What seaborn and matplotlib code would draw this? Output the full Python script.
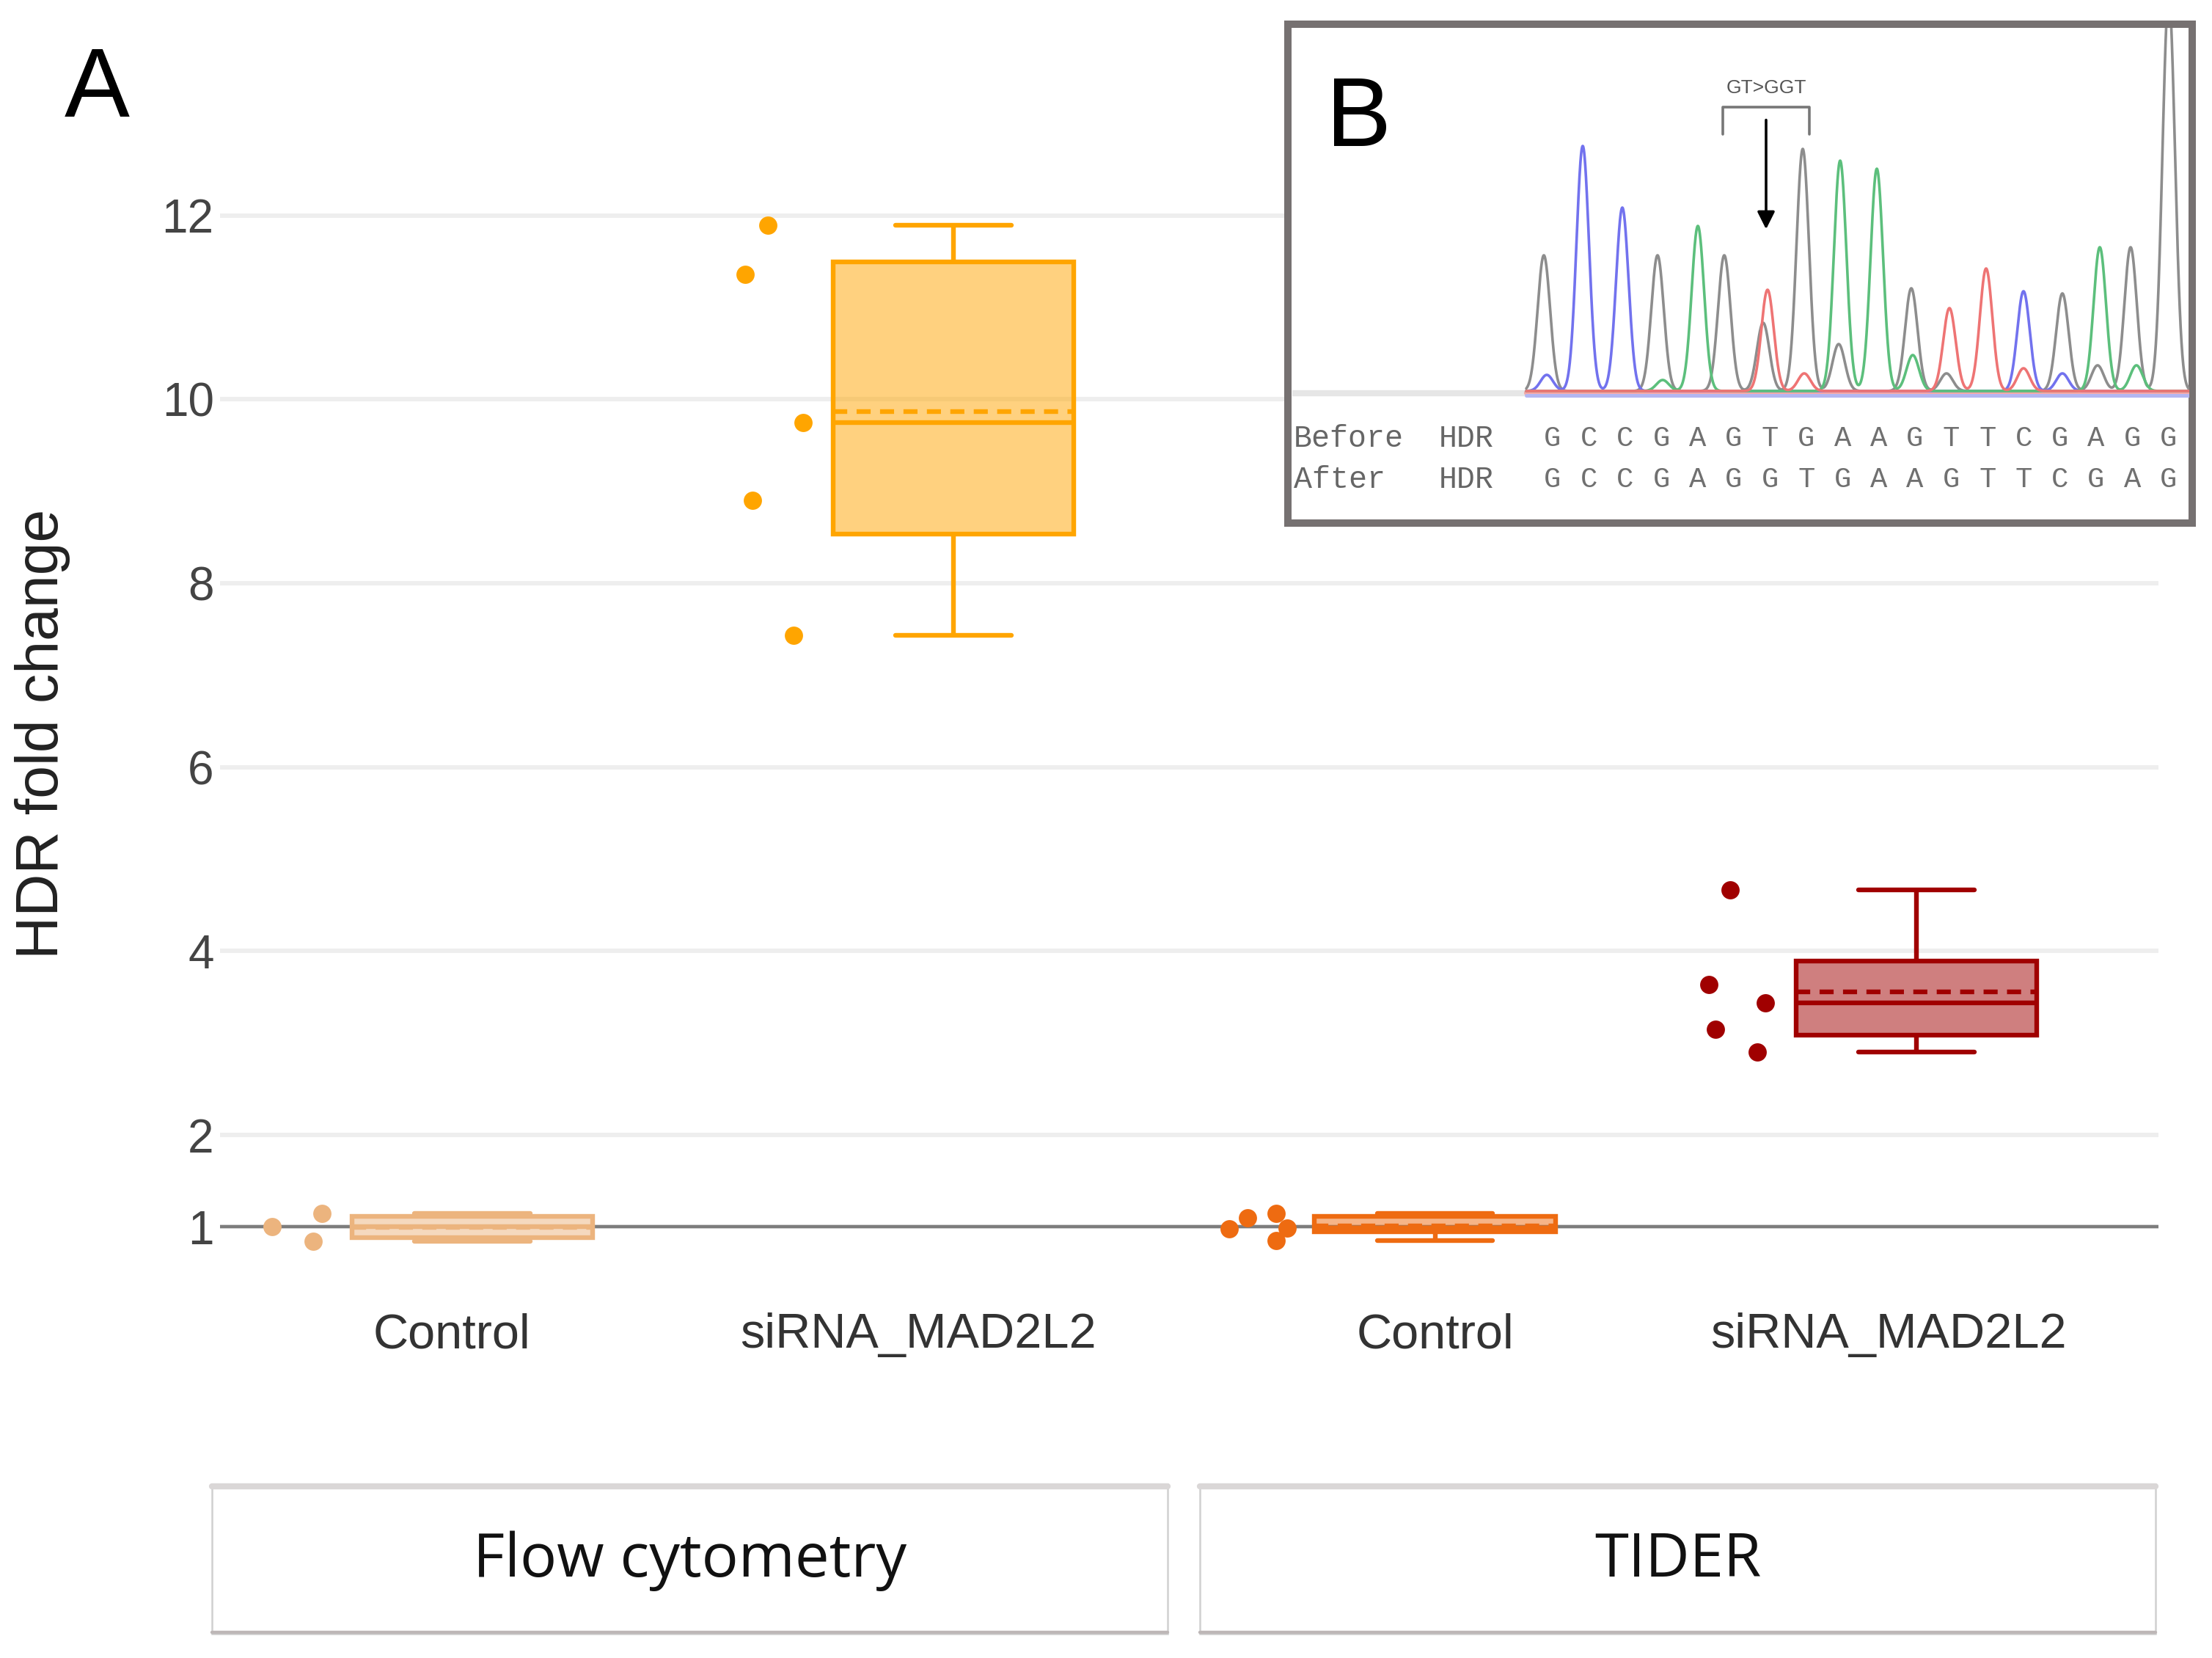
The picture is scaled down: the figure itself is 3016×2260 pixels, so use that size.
import numpy as np
import pandas as pd
import matplotlib
matplotlib.use("Agg")
import matplotlib as mpl
import matplotlib.cbook
import matplotlib.pyplot as plt
from matplotlib.patches import Rectangle
from matplotlib.colors import to_rgba
import seaborn as sns

# ------------------------------------------------------------------ data
methods = ["Flow cytometry", "Flow cytometry", "TIDER", "TIDER"]
categories = ["Control", "siRNA_MAD2L2", "Control", "siRNA_MAD2L2"]

fc_control = [1.00, 1.151, 0.846]
fc_sirna = [11.89, 11.36, 9.75, 8.90, 7.43]
tider_control = [0.98, 1.10, 1.15, 0.99, 0.85]
tider_sirna = [4.664, 3.635, 3.437, 3.149, 2.899]

fc_control_jit = [-0.416, -0.312, -0.331]
fc_sirna_jit = [-0.386, -0.433, -0.313, -0.418, -0.332]
tider_control_jit = [-0.427, -0.389, -0.330, -0.307, -0.330]
tider_sirna_jit = [-0.387, -0.431, -0.313, -0.417, -0.330]

group_colors = ["#ECB47E", "#FFA500", "#EE6B11", "#A00000"]
ytick_values = [1, 2, 4, 6, 8, 10, 12]
strip_labels = ["Flow cytometry", "TIDER"]

# chromatogram (panel B): main peaks and minor peaks, positions in scan units
peak_base = list("GCCGAGTGAAGTTCGAGG")
peak_pos = [24, 77, 131, 179, 234, 270, 329, 377, 428, 478, 525, 577, 627, 678, 731, 782, 824, 876]
peak_height = [185, 334, 250, 185, 225, 185, 138, 330, 314, 303, 140, 113, 167, 136, 133, 196, 196, 540]
minor_base = ["C", "A", "G", "T", "G", "A", "G", "T", "C", "G", "A"]
minor_pos = [28, 186, 323, 379, 426, 527, 573, 678, 731, 779, 832]
minor_height = [22, 15, 93, 24, 64, 49, 24, 31, 24, 35, 35]
seq_before = "GCCGAGTGAAGTTCGAGG"
seq_after = "GCCGAGGTGAAGTTCGAG"
mutation_label = "GT>GGT"

# ------------------------------------------------------------------ frame
values = [fc_control, fc_sirna, tider_control, tider_sirna]
jits = [fc_control_jit, fc_sirna_jit, tider_control_jit, tider_sirna_jit]
rows = []
for gi, (vals, jj) in enumerate(zip(values, jits)):
    for v, j in zip(vals, jj):
        rows.append(dict(group=gi, method=methods[gi], category=categories[gi],
                         pos=float(gi), value=v, jit=j))
df = pd.DataFrame(rows)

# box quartiles: Hazen percentiles (as in the source figure)
_orig_stats = mpl.cbook.boxplot_stats


def _hazen_stats(X, *args, **kwargs):
    stats = _orig_stats(X, *args, **kwargs)
    for st, x in zip(stats, X):
        q1, q3 = np.percentile(np.asarray(x, float), [25, 75], method="hazen")
        st["q1"], st["q3"], st["iqr"] = q1, q3, q3 - q1
    return stats


mpl.cbook.boxplot_stats = _hazen_stats

# ------------------------------------------------------------------ style
sns.set_theme(style="white")
plt.rcParams["font.family"] = ["Liberation Sans", "DejaVu Sans"]

W, H = 3016, 2260
fig = plt.figure(figsize=(W / 200, H / 200), dpi=200)
fig.patch.set_facecolor("white")


def fx(px):
    return px / W


def fy(py):
    return 1 - py / H


ax = fig.add_axes([fx(300), fy(1747.7), fx(2943) - fx(300), fy(105.6) - fy(1747.7)])

ax.yaxis.grid(True, color="#eeeeee", lw=2.2)
ax.xaxis.grid(False)
ax.set_axisbelow(True)
ax.axhline(1, color="#7d7d7d", lw=1.6, zorder=1.8)

LW = 2.3
for gi in range(4):
    sub = df[df["group"] == gi]
    col = group_colors[gi]
    sns.boxplot(data=sub, x="pos", y="value", orient="x", native_scale=True,
                width=0.5, whis=(0, 100), color=col, linecolor=col, linewidth=LW,
                fill=True, boxprops=dict(facecolor=to_rgba(col, 0.5), zorder=3),
                showmeans=True, meanline=True,
                meanprops=dict(color=col, linestyle=(0, (3, 2)), linewidth=LW),
                capwidths=[0.24], showfliers=False, ax=ax)
    sns.scatterplot(x=sub["pos"] + sub["jit"], y=sub["value"], color=col, s=80,
                    linewidth=0, legend=False, ax=ax, zorder=4)

ax.set_xlim(-0.524, 3.503)
ax.set_ylim(0.4, 13.5)
ax.set_yticks(ytick_values)
ax.set_yticklabels([str(v) for v in ytick_values])
ax.set_xticks([-0.043, 0.927, 2.0, 2.942])
ax.set_xticklabels(categories)
ax.tick_params(axis="y", length=0, pad=3, labelsize=23, labelcolor="#444444")
ax.tick_params(axis="x", length=0, pad=15, labelsize=24, labelcolor="#333333")
ax.set_xlabel("")
ax.set_ylabel("")
for s in ax.spines.values():
    s.set_visible(False)

fig.text(fx(58), fy(1000), "HDR fold change", rotation=90, ha="center", va="center",
         fontsize=29, color="#222222")
fig.text(fx(88), fy(159), "A", fontsize=48, ha="left", va="baseline", color="black")

# facet strips at the bottom
for (x0, x1), lab in zip([(289, 1592), (1636, 2939)], strip_labels):
    fig.add_artist(Rectangle((fx(x0), fy(2227)), fx(x1) - fx(x0), fy(2023) - fy(2227),
                             transform=fig.transFigure, facecolor="white",
                             edgecolor="#d0d0d0", lw=0.9))
    fig.add_artist(plt.Line2D([fx(x0), fx(x1)], [fy(2026), fy(2026)],
                              transform=fig.transFigure, color="#dad7d7", lw=3.0))
    fig.add_artist(plt.Line2D([fx(x0), fx(x1)], [fy(2225), fy(2225)],
                              transform=fig.transFigure, color="#bdb7b7", lw=1.6))
    fig.text(fx((x0 + x1) / 2), fy(2149), lab, ha="center", va="baseline",
             fontsize=30, color="#111111", family=["Open Sans", "DejaVu Sans"])

# ------------------------------------------------------------------ panel B
axB = fig.add_axes([fx(1756), fy(713), fx(2989) - fx(1756), fy(33) - fy(713)])
axB.set_xlim(1756, 2989)
axB.set_ylim(713, 33)
axB.set_xticks([])
axB.set_yticks([])
axB.set_facecolor("white")
for s in axB.spines.values():
    s.set_color("#767171")
    s.set_linewidth(3.6)

axB.text(1808, 199, "B", fontsize=48, ha="left", va="baseline", color="black")

mono = ["Liberation Mono", "DejaVu Sans Mono"]
for yy, name, seq in [(598, "Before", seq_before), (654, "After", seq_after)]:
    axB.text(1764, yy, name, ha="left", va="center", fontsize=15, family=mono, color="#666666")
    axB.text(1962, yy, "HDR", ha="left", va="center", fontsize=15, family=mono, color="#666666")
    for i, ch in enumerate(seq):
        axB.text(2117 + i * 49.4, yy, ch, ha="center", va="center", fontsize=14,
                 family=mono, color="#707070")

axB.text(2408, 120, mutation_label, ha="center", va="center", fontsize=9.5, color="#555555")
axB.plot([2349, 2349, 2467, 2467], [183, 146, 146, 183], color="#777777", lw=1.3)
axB.annotate("", xy=(2408, 318), xytext=(2408, 158),
             arrowprops=dict(arrowstyle="-|>", color="black", lw=1.3, mutation_scale=18))

axT = fig.add_axes([fx(1762), fy(545), fx(2985) - fx(1762), fy(38) - fy(545)])
axT.set_xlim(1762 - 2081, 2985 - 2081)
axT.set_ylim(-12, 495)
axT.axis("off")
axT.patch.set_alpha(0)

axT.plot([-319, 0], [-3, -3], color="#e6e6e6", lw=3)
axT.plot([0, 904], [-1.5, -1.5], color="#f4a9a9", lw=2.6)
axT.plot([0, 904], [-5.5, -5.5], color="#b3b6f2", lw=1.8)

chan_colors = {"G": "#8d8d8d", "C": "#7272ee", "A": "#5cbf7c", "T": "#ee7474"}
xs = np.linspace(0, 904, 3000)
sigma = 8.5
for base in ["G", "C", "A", "T"]:
    ys = np.zeros_like(xs)
    for b, p, h in list(zip(peak_base, peak_pos, peak_height)) + list(zip(minor_base, minor_pos, minor_height)):
        if b == base:
            ys += h * np.exp(-0.5 * ((xs - p) / sigma) ** 2)
    sns.lineplot(x=xs, y=ys, color=chan_colors[base], lw=1.3, ax=axT,
                 estimator=None, sort=False, legend=False)
axT.set_xlim(1762 - 2081, 2985 - 2081)
axT.set_ylim(-12, 495)
axT.axis("off")

fig.savefig("out.png", dpi=200, facecolor="white")
